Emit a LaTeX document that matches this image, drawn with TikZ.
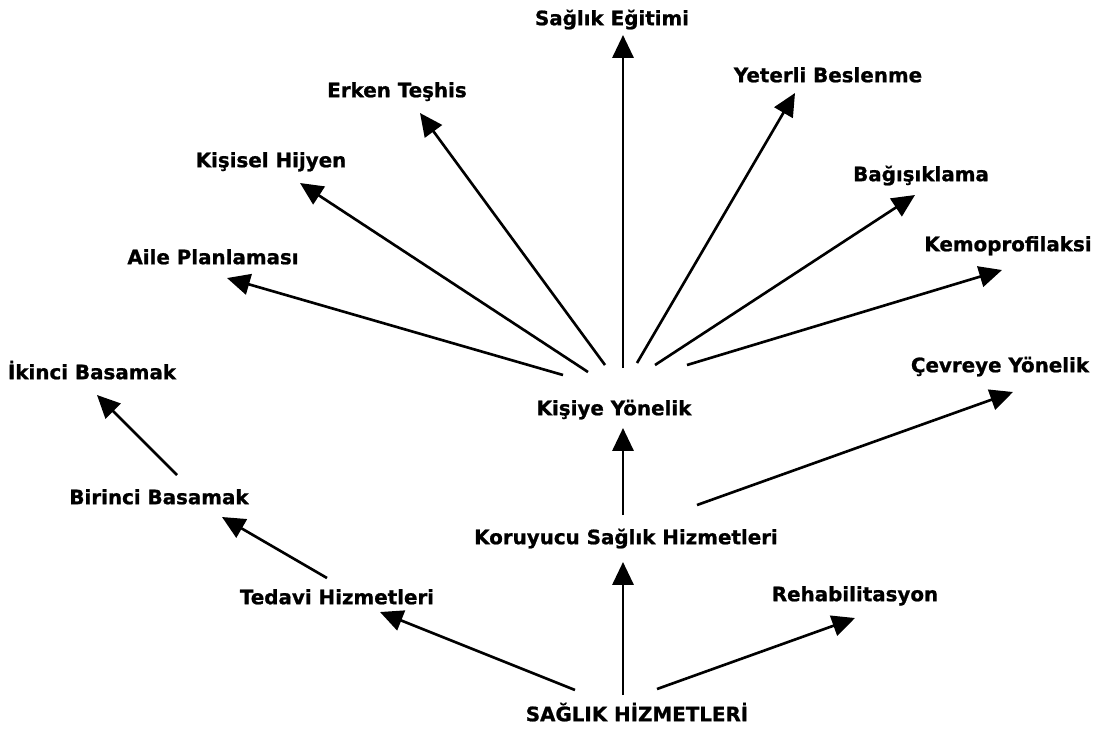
\documentclass[tikz,border=0pt]{standalone}
\usepackage{fontspec}
\setmainfont{DejaVu Sans}[BoldFeatures={FakeBold=1}]
\usepackage{tikz}
\usetikzlibrary{arrows.meta}

\begin{document}
\begin{tikzpicture}[
x=0.02cm, y=-0.02cm,
lbl/.style={inner sep=0pt, text height=8.2pt, text depth=0pt, font=\fontsize{11.3}{13}\selectfont\bfseries},
arrow/.style={-{Triangle[length=13pt, width=12pt]}, line width=1.5pt}
]
    \useasboundingbox (0,0) rectangle (1101,731);

    \node[lbl] (sh) at (637,714) {SAĞLIK HİZMETLERİ};
    \node[lbl] (tedavi) at (337,597) {Tedavi Hizmetleri};
    \node[lbl] (koruyucu) at (626,537) {Koruyucu Sağlık Hizmetleri};
    \node[lbl] (rehab) at (855,594) {Rehabilitasyon};
    \node[lbl] (birinci) at (159,497) {Birinci Basamak};
    \node[lbl] (ikinci) at (92,372) {İkinci Basamak};
    \node[lbl] (kisiye) at (614,408) {Kişiye Yönelik};
    \node[lbl] (cevreye) at (1000,365) {Çevreye Yönelik};
    \node[lbl] (aile) at (213,257) {Aile Planlaması};
    \node[lbl] (kisisel) at (271,160) {Kişisel Hijyen};
    \node[lbl] (erken) at (397,90) {Erken Teşhis};
    \node[lbl] (saglik) at (612,18) {Sağlık Eğitimi};
    \node[lbl] (yeterli) at (828,75) {Yeterli Beslenme};
    \node[lbl] (bagisik) at (921,174) {Bağışıklama};
    \node[lbl] (kemo) at (1008,244) {Kemoprofilaksi};

    % ana dallar
    \draw[arrow] ([shift={(-62,-24)}]sh.center) -- ([shift={(43,15)}]tedavi.center);
    \draw[arrow] ([shift={(-14,-19)}]sh.center) -- ([shift={(-3,25)}]koruyucu.center);
    \draw[arrow] ([shift={(20,-25)}]sh.center) -- ([shift={(0,24)}]rehab.center);

    % tedavi
    \draw[arrow] ([shift={(-10,-19)}]tedavi.center) -- ([shift={(63,20)}]birinci.center);
    \draw[arrow] ([shift={(18,-22)}]birinci.center) -- ([shift={(5,23)}]ikinci.center);

    % koruyucu
    \draw[arrow] ([shift={(-3,-22)}]koruyucu.center) -- ([shift={(9,20)}]kisiye.center);
    \draw[arrow] ([shift={(71,-32)}]koruyucu.center) -- ([shift={(13,27)}]cevreye.center);

    % kisiye yonelik
    \draw[arrow] ([shift={(-51,-33)}]kisiye.center) -- ([shift={(14,21)}]aile.center);
    \draw[arrow] ([shift={(-26,-36)}]kisiye.center) -- ([shift={(29,23)}]kisisel.center);
    \draw[arrow] ([shift={(-9,-43)}]kisiye.center) -- ([shift={(23,23)}]erken.center);
    \draw[arrow] ([shift={(9,-40)}]kisiye.center) -- ([shift={(11,17)}]saglik.center);
    \draw[arrow] ([shift={(23,-45)}]kisiye.center) -- ([shift={(-33,18)}]yeterli.center);
    \draw[arrow] ([shift={(41,-43)}]kisiye.center) -- ([shift={(-6,21)}]bagisik.center);
    \draw[arrow] ([shift={(73,-43)}]kisiye.center) -- ([shift={(-6,26)}]kemo.center);

\end{tikzpicture}
\end{document}
